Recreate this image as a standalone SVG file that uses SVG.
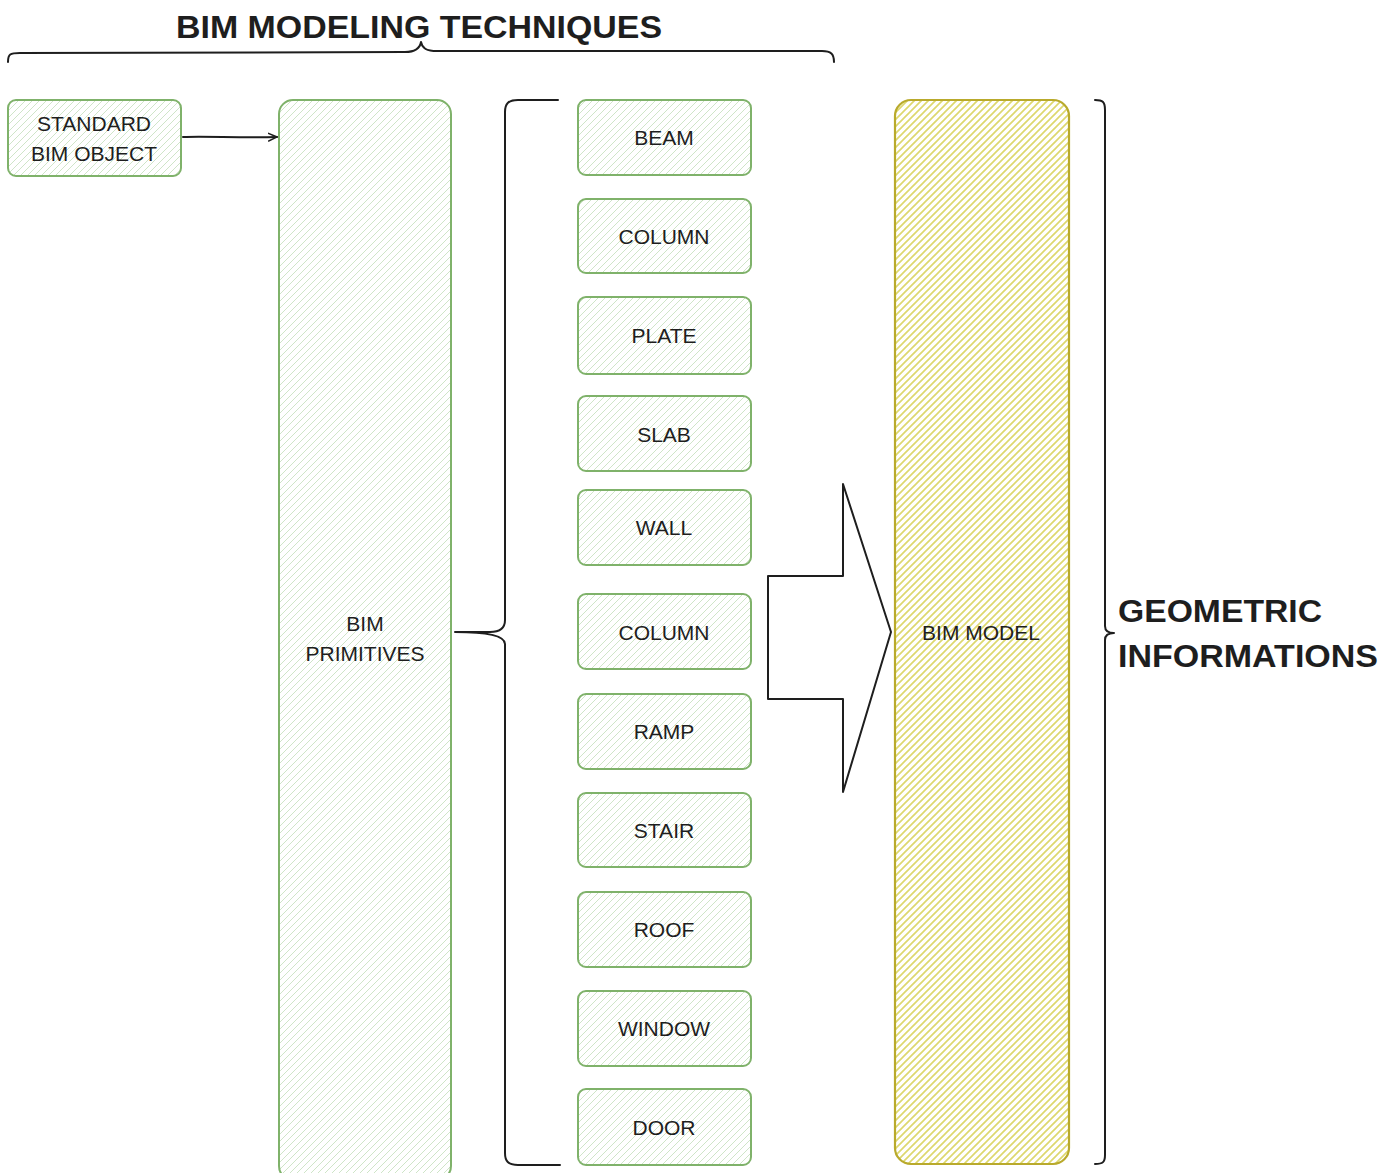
<svg xmlns="http://www.w3.org/2000/svg" width="1396" height="1173" viewBox="0 0 1396 1173">
  <defs>
    <pattern id="hatchGreen" width="7" height="7" patternUnits="userSpaceOnUse">
      <path d="M-1,1 L1,-1 M0,7 L7,0 M6,8 L8,6" stroke="#cfe5c8" stroke-width="1"/>
    </pattern>
    <pattern id="hatchYellow" width="7" height="7" patternUnits="userSpaceOnUse">
      <path d="M-1,1 L1,-1 M0,7 L7,0 M6,8 L8,6" stroke="#ddd86e" stroke-width="1.7"/>
    </pattern>
    <marker id="arrowHead" viewBox="0 0 10 10" refX="9" refY="5" markerWidth="10" markerHeight="10" markerUnits="userSpaceOnUse" orient="auto">
      <path d="M0,1 L9,5 L0,9" fill="none" stroke="#1e1e1e" stroke-width="1.5"/>
    </marker>
  </defs>
  <style>
    .item { fill: url(#hatchGreen); stroke: #7fb26a; stroke-width: 2; }
    .model { fill: url(#hatchYellow); stroke: #b9aa2c; stroke-width: 2.2; }
    .ink { fill: none; stroke: #1e1e1e; stroke-width: 2; stroke-linecap: round; stroke-linejoin: round; }
    .label { font-family: "Liberation Sans", Arial, sans-serif; font-size: 21px; fill: #1e1e1e; text-anchor: middle; dominant-baseline: central; }
    .heading { font-family: "Liberation Sans", Arial, sans-serif; font-weight: bold; font-size: 31px; fill: #1e1e1e; }
  </style>

  <rect width="1396" height="1173" fill="#ffffff"/>

  <!-- heading with its brace -->
  <g id="title">
    <text class="heading" x="176" y="38" textLength="486" lengthAdjust="spacingAndGlyphs">BIM MODELING TECHNIQUES</text>
    <path class="ink" d="M8,62 C8,54 10,53 20,53 L405,52 C416,52 420,48 421,42 C422,48 426,51 437,51 L822,51 C831,51 834,54 834,62"/>
  </g>

  <!-- connectors and braces -->
  <g id="connectors">
    <path class="ink" d="M183,137 C205,136 240,138 277,137" marker-end="url(#arrowHead)"/>
    <!-- brace grouping the primitives -->
    <path class="ink" d="M558,100 L518,100 C508,100 505,104 505,112 L505,620 C505,628 500,632 490,632 L455,632 C490,632 505,636 505,644 L505,1153 C505,1161 508,1165 518,1165 L560,1165"/>
    <!-- block arrow into the model -->
    <path class="ink" d="M768,576 L843,576 L843,484 L891,632 L843,792 L843,699 L768,699 Z"/>
    <!-- brace on the right side -->
    <path class="ink" d="M1095,100 C1103,100 1105,102 1105,110 L1105,626 C1105,630 1107,633 1114,633 C1107,633 1105,636 1105,640 L1105,1155 C1105,1162 1103,1164 1095,1164"/>
  </g>

  <g id="standard-bim-object">
    <rect class="item" x="8" y="100" width="173" height="76" rx="8"/>
    <text class="label" x="94" y="123">STANDARD</text>
    <text class="label" x="94" y="153">BIM OBJECT</text>
  </g>

  <g id="bim-primitives">
    <rect class="item" x="279" y="100" width="172" height="1080" rx="14"/>
    <text class="label" x="365" y="623">BIM</text>
    <text class="label" x="365" y="653">PRIMITIVES</text>
  </g>

  <g id="beam">
    <rect class="item" x="578" y="100" width="173" height="75" rx="8"/>
    <text class="label" x="664" y="137">BEAM</text>
  </g>
  <g id="column-1">
    <rect class="item" x="578" y="199" width="173" height="74" rx="8"/>
    <text class="label" x="664" y="236">COLUMN</text>
  </g>
  <g id="plate">
    <rect class="item" x="578" y="297" width="173" height="77" rx="8"/>
    <text class="label" x="664" y="335">PLATE</text>
  </g>
  <g id="slab">
    <rect class="item" x="578" y="396" width="173" height="75" rx="8"/>
    <text class="label" x="664" y="434">SLAB</text>
  </g>
  <g id="wall">
    <rect class="item" x="578" y="490" width="173" height="75" rx="8"/>
    <text class="label" x="664" y="527">WALL</text>
  </g>
  <g id="column-2">
    <rect class="item" x="578" y="594" width="173" height="75" rx="8"/>
    <text class="label" x="664" y="632">COLUMN</text>
  </g>
  <g id="ramp">
    <rect class="item" x="578" y="694" width="173" height="75" rx="8"/>
    <text class="label" x="664" y="731">RAMP</text>
  </g>
  <g id="stair">
    <rect class="item" x="578" y="793" width="173" height="74" rx="8"/>
    <text class="label" x="664" y="830">STAIR</text>
  </g>
  <g id="roof">
    <rect class="item" x="578" y="892" width="173" height="75" rx="8"/>
    <text class="label" x="664" y="929">ROOF</text>
  </g>
  <g id="window">
    <rect class="item" x="578" y="991" width="173" height="75" rx="8"/>
    <text class="label" x="664" y="1028">WINDOW</text>
  </g>
  <g id="door">
    <rect class="item" x="578" y="1089" width="173" height="76" rx="8"/>
    <text class="label" x="664" y="1127">DOOR</text>
  </g>

  <g id="bim-model">
    <rect class="model" x="895" y="100" width="174" height="1064" rx="16"/>
    <text class="label" x="981" y="632">BIM MODEL</text>
  </g>

  <g id="geometric-informations">
    <text class="heading" x="1118" y="622" textLength="204" lengthAdjust="spacingAndGlyphs">GEOMETRIC</text>
    <text class="heading" x="1118" y="667" textLength="260" lengthAdjust="spacingAndGlyphs">INFORMATIONS</text>
  </g>
</svg>
